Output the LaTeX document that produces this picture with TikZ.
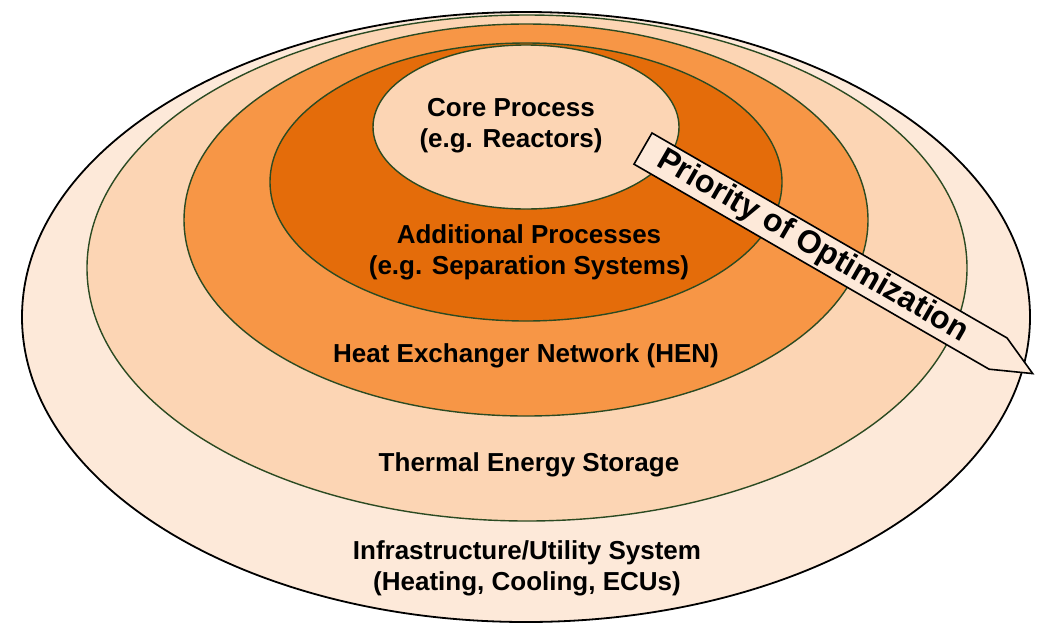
\documentclass[tikz,border=0pt]{standalone}
\usepackage{fontspec}
\setmainfont{Liberation Sans}
\usepackage{xcolor}
\definecolor{peachouter}{HTML}{FDE9D9}
\definecolor{peachlight}{HTML}{FCD5B4}
\definecolor{orangemid}{HTML}{F79646}
\definecolor{orangedark}{HTML}{E46C0A}
\definecolor{ringgreen}{HTML}{2B4A22}

\begin{document}
\begin{tikzpicture}[x=1pt, y=-1pt,
  ring/.style={draw=ringgreen, line width=1.4pt},
  layer/.style={font=\fontsize{26}{31}\selectfont\bfseries, align=center, inner sep=0pt}]
\useasboundingbox (0,0) rectangle (1038,625);

% rings, outside in
\filldraw[fill=peachouter, draw=black, line width=1.8pt] (526,317) ellipse (504 and 305);
\filldraw[ring, fill=peachlight] (527,268) ellipse (440 and 253);
\filldraw[ring, fill=orangemid] (526,220) ellipse (342 and 196);
\filldraw[ring, fill=orangedark] (526,182) ellipse (256 and 139);
\filldraw[ring, fill=peachlight] (526,127) ellipse (153 and 82);

\node[layer] (core) at (511,126) {Core Process\\(e.g. Reactors)};
\node[layer] (addproc) at (529,252) {Additional Processes\\(e.g. Separation Systems)};
\node[layer] (hen) at (526,356) {Heat Exchanger Network (HEN)};
\node[layer] (tes) at (529,465) {Thermal Energy Storage};
\node[layer] (infra) at (527,568) {Infrastructure/Utility System\\(Heating, Cooling, ECUs)};

% priority arrow
\coordinate (tail) at (652,133);
\begin{scope}[shift={(tail)}, rotate=-30]
\filldraw[fill=peachouter, draw=black, line width=1.6pt] (0,0) -- (410,0) -- (450,18) -- (410,36) -- (0,36) -- cycle;
\node[font=\fontsize{32}{38}\selectfont\bfseries, rotate=-30, inner sep=0pt] (prio) at (196,18) {Priority of Optimization};
\end{scope}

\end{tikzpicture}
\end{document}
